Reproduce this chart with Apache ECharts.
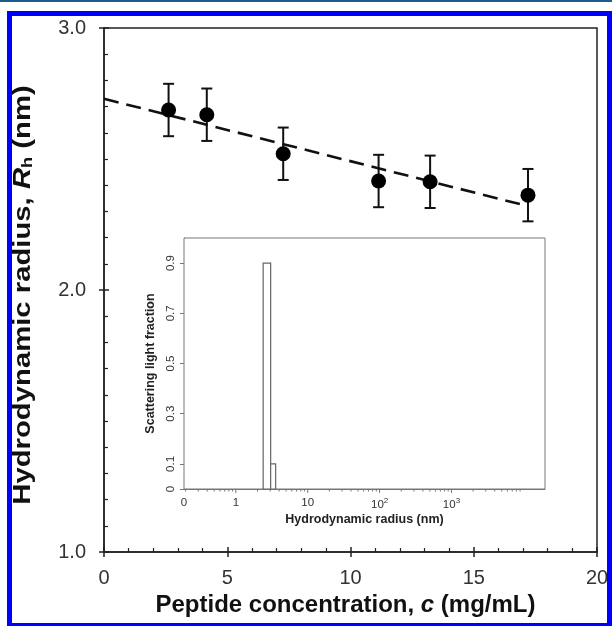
<!DOCTYPE html>
<html>
<head>
<meta charset="utf-8">
<script src="https://cdn.jsdelivr.net/npm/echarts@6/dist/echarts.min.js"></script>
<style>
html, body { margin: 0; padding: 0; background: #fff; }
#chart { width: 612px; height: 626px; }
</style>
</head>
<body>
<div id="chart"></div>
<script>
// main plot: Rh vs peptide concentration
const concentration = [2.62, 4.17, 7.27, 11.14, 13.23, 17.2];
const radius = [2.687, 2.669, 2.52, 2.416, 2.413, 2.362];
const radiusErr = [0.1, 0.1, 0.1, 0.1, 0.1, 0.1];
// linear fit (dashed)
const fitX = [0, 17.2];
const fitY = [2.73, 2.32];

// inset: histogram of scattering light fraction vs Rh (log axis)
const binStart = [2.4, 3.05];
const binEnd = [3.05, 3.58];
const binFraction = [0.9, 0.1];
const insetYTicks = [0, 0.1, 0.3, 0.5, 0.7, 0.9];
const insetMajorX = [1, 10, 100, 1000];
const insetMinorX = [
  0.2, 0.3, 0.4, 0.5, 0.6, 0.7, 0.8, 0.9,
  2, 3, 4, 5, 6, 7, 8, 9,
  20, 30, 40, 50, 60, 70, 80, 90,
  200, 300, 400, 500, 600, 700, 800, 900,
  2000, 3000, 4000, 5000, 6000, 7000, 8000, 9000
];
const supLabels = { 100: '10{sup|2}', 1000: '10{sup|3}' };

const font = 'Liberation Sans, Arial, sans-serif';
const axisColor = '#222';
const insetColor = '#777';

const chart = echarts.init(document.getElementById('chart'));

const mainGrid = { left: 104, right: 15, top: 28, bottom: 74 };

const option = {
  animation: false,
  backgroundColor: '#fff',
  textStyle: { fontFamily: font },
  graphic: [
    { type: 'rect', shape: { x: 0, y: 0, width: 612, height: 2 }, style: { fill: '#1e5b8c' } },
    { type: 'rect', shape: { x: 9.5, y: 13.5, width: 600, height: 612 },
      style: { fill: 'none', stroke: '#0000ff', lineWidth: 5 }, z: 100 },
    // y axis title (stretched along its length like the original)
    {
      type: 'text', x: 23, y: 295, rotation: Math.PI / 2, scaleX: 1.22,
      style: {
        text: 'Hydrodynamic radius, {i|R}{s|h} (nm)',
        fontFamily: font, fontSize: 24, fontWeight: 'bold', fill: '#111',
        align: 'center', verticalAlign: 'middle',
        rich: {
          i: { fontFamily: font, fontSize: 24, fontWeight: 'bold', fontStyle: 'italic', fill: '#111' },
          s: { fontFamily: font, fontSize: 15, fontWeight: 'bold', fill: '#111', padding: [9, 0, 0, 0] }
        }
      }
    }
  ],
  grid: [
    Object.assign({ show: true, borderColor: axisColor, borderWidth: 1.5 }, mainGrid),
    Object.assign({ show: false }, mainGrid),
    { left: 184, top: 238, width: 361, height: 251, show: true,
      backgroundColor: '#fff', borderColor: insetColor, borderWidth: 1, z: 5 }
  ],
  xAxis: [
    {
      gridIndex: 0, type: 'value', min: 0, max: 20, interval: 5,
      name: 'Peptide concentration, {i|c} (mg/mL)',
      nameLocation: 'middle', nameGap: 41,
      nameTextStyle: { fontSize: 24, fontWeight: 'bold', color: '#111', padding: [0, 10, 0, 0],
        rich: { i: { fontSize: 24, fontWeight: 'bold', fontStyle: 'italic', color: '#111' } } },
      axisLine: { lineStyle: { color: axisColor, width: 1.5 } },
      axisTick: { inside: true, length: 5, lineStyle: { color: axisColor, width: 1.5 } },
      minorTick: { show: true, splitNumber: 5, length: 4, lineStyle: { color: axisColor, width: 1.2 } },
      splitLine: { show: false },
      axisLabel: { fontSize: 20, color: '#333', margin: 16 }
    },
    {
      gridIndex: 1, type: 'value', min: 0, max: 20, interval: 5,
      axisLine: { show: false },
      axisTick: { inside: false, length: 5, lineStyle: { color: axisColor, width: 1.5 } },
      splitLine: { show: false },
      axisLabel: { show: false }
    },
    {
      gridIndex: 2, type: 'log', logBase: 10, min: 0.19, max: 20000,
      name: 'Hydrodynamic radius (nm)',
      nameLocation: 'middle', nameGap: 24,
      nameTextStyle: { fontSize: 12.5, fontWeight: 'bold', color: '#222' },
      axisLine: { lineStyle: { color: insetColor, width: 1 } },
      axisTick: { show: false },
      splitLine: { show: false },
      axisLabel: {
        fontSize: 11.5, color: '#333', margin: 8, showMaxLabel: false,
        formatter: function (v) {
          if (v < 0.5) return '0';
          if (supLabels[Math.round(v)]) return supLabels[Math.round(v)];
          if (Math.abs(v - 1) < 1e-6) return '1';
          if (Math.abs(v - 10) < 1e-6) return '10';
          return '';
        },
        rich: { sup: { fontSize: 8, padding: [0, 0, 7, 0], color: '#333' } }
      }
    }
  ],
  yAxis: [
    {
      gridIndex: 0, type: 'value', min: 1, max: 3, interval: 1,
      axisLine: { lineStyle: { color: axisColor, width: 1.5 } },
      axisTick: { inside: true, length: 5, lineStyle: { color: axisColor, width: 1.5 } },
      minorTick: { show: true, splitNumber: 10, length: 4, lineStyle: { color: axisColor, width: 1.2 } },
      splitLine: { show: false },
      axisLabel: { fontSize: 20, color: '#333', margin: 18, formatter: v => v.toFixed(1) }
    },
    {
      gridIndex: 1, type: 'value', min: 1, max: 3, interval: 1,
      axisLine: { show: false },
      axisTick: { inside: false, length: 5, lineStyle: { color: axisColor, width: 1.5 } },
      splitLine: { show: false },
      axisLabel: { show: false }
    },
    {
      gridIndex: 2, type: 'value', min: 0, max: 1,
      name: 'Scattering light fraction',
      nameLocation: 'middle', nameGap: 27,
      nameTextStyle: { fontSize: 12.5, fontWeight: 'bold', color: '#222' },
      axisLine: { lineStyle: { color: insetColor, width: 1 } },
      axisTick: { customValues: insetYTicks, length: 4, lineStyle: { color: insetColor } },
      splitLine: { show: false },
      axisLabel: { customValues: insetYTicks, rotate: 90, fontSize: 11.5, color: '#333', margin: 7,
        formatter: v => (v === 0 ? '0' : String(v)) }
    }
  ],
  series: [
    {
      type: 'line', xAxisIndex: 0, yAxisIndex: 0,
      data: fitX.map((x, i) => [x, fitY[i]]),
      symbol: 'none',
      lineStyle: { color: '#111', width: 2.6, type: [15, 8] },
      z: 2
    },
    {
      type: 'custom', xAxisIndex: 0, yAxisIndex: 0,
      data: concentration.map((c, i) => [c, radius[i] - radiusErr[i], radius[i] + radiusErr[i]]),
      renderItem: function (params, api) {
        const lo = api.coord([api.value(0), api.value(1)]);
        const hi = api.coord([api.value(0), api.value(2)]);
        const w = 5.5;
        const st = { stroke: '#111', lineWidth: 2 };
        return {
          type: 'group',
          children: [
            { type: 'line', shape: { x1: lo[0], y1: lo[1], x2: hi[0], y2: hi[1] }, style: st },
            { type: 'line', shape: { x1: hi[0] - w, y1: hi[1], x2: hi[0] + w, y2: hi[1] }, style: st },
            { type: 'line', shape: { x1: lo[0] - w, y1: lo[1], x2: lo[0] + w, y2: lo[1] }, style: st }
          ]
        };
      },
      z: 3
    },
    {
      type: 'scatter', xAxisIndex: 0, yAxisIndex: 0,
      data: concentration.map((c, i) => [c, radius[i]]),
      symbol: 'circle', symbolSize: 15,
      itemStyle: { color: '#000', opacity: 1 },
      z: 4
    },
    {
      type: 'custom', xAxisIndex: 2, yAxisIndex: 2,
      data: binStart.map((s, i) => [s, binEnd[i], binFraction[i]]),
      encode: { x: [0, 1], y: 2 },
      renderItem: function (params, api) {
        const a = api.coord([api.value(0), 0]);
        const b = api.coord([api.value(1), api.value(2)]);
        return {
          type: 'rect',
          shape: { x: a[0], y: b[1], width: b[0] - a[0], height: a[1] - b[1] },
          style: { fill: '#fff', stroke: '#666', lineWidth: 1.2 }
        };
      },
      z: 10
    },
    {
      type: 'custom', xAxisIndex: 2, yAxisIndex: 2,
      data: insetMajorX.map(v => [v, 4]).concat(insetMinorX.map(v => [v, 2.5])),
      encode: { x: 0 },
      renderItem: function (params, api) {
        const p = api.coord([api.value(0), 0]);
        return {
          type: 'line',
          shape: { x1: p[0], y1: p[1], x2: p[0], y2: p[1] + api.value(1) },
          style: { stroke: insetColor, lineWidth: 1 }
        };
      },
      z: 10
    }
  ]
};

chart.setOption(option);
window.addEventListener('resize', () => chart.resize());
</script>
</body>
</html>
